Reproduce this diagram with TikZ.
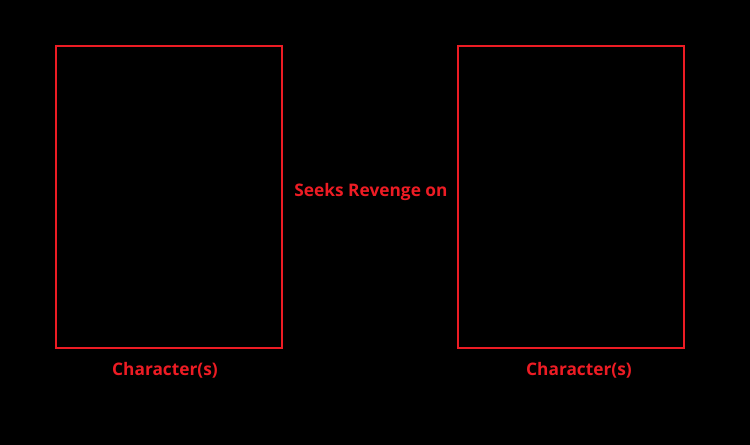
\documentclass[tikz,border=0pt]{standalone}
\usepackage{fontspec}
\setmainfont{Open Sans}
\definecolor{rred}{RGB}{237,28,36}
\begin{document}
\begin{tikzpicture}[x=1bp,y=-1bp,
  panel/.style={draw=rred,line width=1.8bp},
  lbl/.style={text=rred,font=\fontsize{17.3bp}{20bp}\selectfont\bfseries,inner sep=0pt}]
\fill[black] (0,0) rectangle (750,445);
\useasboundingbox (0,0) rectangle (750,445);
\node[panel,minimum width=226bp,minimum height=302bp,inner sep=0pt] (left) at (169,197) {};
\node[panel,minimum width=226bp,minimum height=302bp,inner sep=0pt] (right) at (571,197) {};
\node[lbl] (rel) at (371,192) {Seeks Revenge on};
\node[lbl] (lc) at (165,370) {Character(s)};
\node[lbl] (rc) at (579,370) {Character(s)};
\end{tikzpicture}
\end{document}
